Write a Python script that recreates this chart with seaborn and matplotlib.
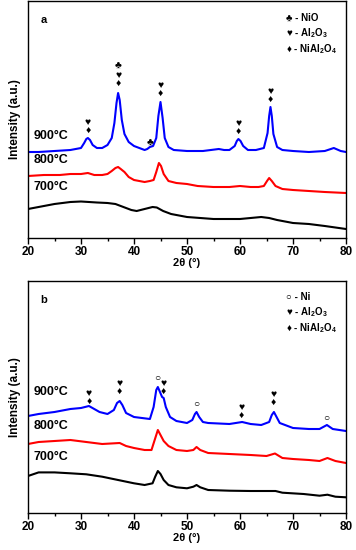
import matplotlib
matplotlib.use('Agg')
import matplotlib.pyplot as plt
import seaborn as sns
from matplotlib.ticker import MultipleLocator

# ---- panel a : calcined samples (NiO) ----
a_x900 = [20, 22, 25, 28, 30, 30.6, 31, 31.3, 31.7, 32.2, 33, 34, 35, 35.8, 36.3, 36.7, 37.0, 37.3, 37.7, 38.2,
          39, 40, 41, 42, 42.5, 43, 43.6, 44.2, 44.6, 45.0, 45.4, 45.8, 46.5, 47.5, 50, 53, 56, 57, 58, 59.0,
          59.4, 59.7, 60.1, 60.6, 61.5, 63, 64.5, 65.2, 65.5, 65.75, 66.0, 66.3, 67, 68, 70, 73, 76, 77.7, 79, 80]
a_y900 = [86, 86, 87, 88, 90, 95, 99, 100, 98, 93, 90, 90, 93, 100, 115, 135, 145, 138, 118, 104,
          96, 92, 90, 88, 89, 91, 92, 100, 122, 136, 120, 100, 91, 88, 87, 87, 89, 88, 88, 92,
          97, 99, 97, 92, 88, 88, 90, 105, 122, 131, 122, 104, 91, 88, 87, 86, 87, 90, 87, 86]
a_x800 = [20, 23, 26, 28, 30, 31.3, 32.5, 34, 35, 35.8, 36.5, 37.0, 37.5, 38.2, 39, 40, 41, 42, 43, 43.7,
          44.2, 44.7, 45.1, 45.6, 46.5, 48, 50, 52, 55, 58, 60, 62, 63.5, 64.5, 65.1, 65.5, 66, 66.7, 68, 70,
          73, 76, 80]
a_y800 = [62, 63, 63, 64, 64, 65, 63, 63, 64, 67, 70, 71, 69, 66, 61, 58, 57, 56, 57, 58,
          66, 75, 72, 64, 57, 55, 54, 52, 51, 51, 52, 51, 51, 52, 57, 60, 57, 52, 49, 48,
          47, 46, 45]
a_x700 = [20, 22, 25, 28, 30, 33, 35, 36.5, 38, 39.5, 40.5, 42, 43.5, 44.3, 45.5, 47, 50, 55, 58, 60,
          62, 64, 65.5, 67, 70, 73, 76, 80]
a_y700 = [29, 31, 34, 36, 36.5, 35.5, 35, 34, 31, 28, 27, 29, 31, 30.5, 27, 24, 21, 19, 19, 19,
          20, 21, 20, 18, 15, 14, 12, 9]

# ---- panel b : reduced samples (Ni) ----
b_x900 = [20, 22, 25, 28, 30, 31.5, 32.5, 33.5, 35, 36.2, 36.8, 37.3, 37.8, 38.5, 40, 41.5, 43, 43.7, 44.2, 44.5,
          44.9, 45.3, 45.6, 46.0, 46.8, 48, 50, 51.0, 51.5, 51.8, 52.3, 53, 54, 58, 60.4, 62, 64, 65.5, 66.0, 66.4,
          66.9, 67.5, 70, 73, 75, 76.4, 77.5, 80]
b_y900 = [97, 99, 101, 104, 105, 107, 104, 101, 99, 103, 110, 112, 108, 100, 96, 95, 94, 106, 123, 126,
          121, 116, 115, 106, 96, 92, 90, 93, 99, 101, 96, 91, 90, 89, 91, 89, 88, 91, 98, 101,
          96, 90, 85, 84, 84, 88, 84, 82]
b_x800 = [20, 22, 25, 28, 31, 34, 37.3, 38.5, 40, 42, 43.3, 43.9, 44.5, 45.0, 45.6, 46.5, 48, 50, 51.2, 51.8,
          52.5, 54, 58, 62, 65, 66.6, 68, 70, 73, 75, 76.5, 78, 80]
b_y800 = [69, 71, 72, 73, 71, 69, 70, 67, 65, 63, 63, 73, 83, 78, 72, 67, 63, 62, 63, 66,
          63, 60, 59, 58, 57, 59.5, 55, 54, 53, 52, 55, 52, 50]
b_x700 = [20, 22, 25, 28, 31, 34, 37, 40, 42, 43.5, 44.0, 44.5, 45.0, 45.6, 46.5, 48, 50, 51.2, 51.8, 52.5,
          54, 58, 62, 66.7, 68, 72, 75, 76.5, 78, 80]
b_y700 = [37, 40.6, 40.6, 39.7, 38.7, 36.3, 33, 29.7, 28, 29.7, 36.3, 42, 39, 33, 28, 25.7, 24.7, 26.3, 28, 25.7,
          23, 22.3, 22, 22, 20.3, 19, 17.3, 18.3, 16.3, 15.7]

# peak markers (2theta, symbols from top to bottom, height of top symbol)
a_marks = [(31.3, '♥♦', 116), (37.0, '♣♥♦', 172), (43.0, '♣', 95), (45.0, '♥♦', 153),
           (59.7, '♥♦', 115), (65.7, '♥♦', 147)]
b_marks = [(31.5, '♥♦', 120), (37.3, '♥♦', 130), (44.3, '○', 135), (45.6, '♥♦', 130),
           (51.8, '○', 109), (60.3, '♥♦', 106), (66.3, '♥♦', 119), (76.3, '○', 95)]

a_legend = ['♣ - NiO', '♥ - Al$_2$O$_3$', '♦ - NiAl$_2$O$_4$']
b_legend = ['○ - Ni', '♥ - Al$_2$O$_3$', '♦ - NiAl$_2$O$_4$']
temps = ['900°C', '800°C', '700°C']
a_temp_y = [96, 72, 45]
b_temp_y = [115, 81, 50]

sns.set_style('ticks')
plt.rcParams['font.family'] = ['Liberation Sans', 'DejaVu Sans']
plt.rcParams['font.weight'] = 'bold'
plt.rcParams['mathtext.default'] = 'regular'
plt.rcParams['text.color'] = 'black'
plt.rcParams['axes.labelcolor'] = 'black'
plt.rcParams['xtick.color'] = 'black'
plt.rcParams['xtick.labelcolor'] = 'black'

fig = plt.figure(figsize=(3.56, 5.5), dpi=100)
ax1 = fig.add_axes([28/356, 1 - 238/550, 318/356, 237/550])
ax2 = fig.add_axes([28/356, 1 - 513/550, 318/356, 232/550])


def draw_panel(ax, curves, marks, legend, temp_y, letter, ytop):
    for xs, ys, col in curves:
        sns.lineplot(x=xs, y=ys, color=col, lw=1.5, ax=ax, sort=False)
    ax.set_xlim(20, 80)
    ax.set_ylim(0, ytop)
    ax.xaxis.set_major_locator(MultipleLocator(10))
    ax.xaxis.set_minor_locator(MultipleLocator(5))
    ax.tick_params(axis='x', which='major', direction='out', length=4, width=1, labelsize=8.5, pad=2,
                   colors='black')
    ax.tick_params(axis='x', which='minor', direction='out', length=2.5, width=1, colors='black')
    ax.set_yticks([])
    for s in ax.spines.values():
        s.set_visible(True)
        s.set_color('black')
        s.set_linewidth(1)
    for lab in ax.get_xticklabels():
        lab.set_fontweight('bold')
    ax.set_xlabel('2θ (°)', fontsize=8, fontweight='bold', labelpad=0, color='black')
    ax.set_ylabel('Intensity (a.u.)', fontsize=8.5, fontweight='bold', labelpad=5, color='black')
    for x, syms, ytop_sym in marks:
        for i, s in enumerate(syms):
            ax.text(x, ytop_sym - 9 * i, s, fontsize=7.5, ha='center', va='center', color='black')
    for i, t in enumerate(legend):
        ax.text(0.81, 0.93 - 0.066 * i, t, transform=ax.transAxes, fontsize=7,
                fontweight='bold', ha='left', va='center', color='black')
    for t, ty in zip(temps, temp_y):
        ax.text(21.0, ty, t, fontsize=9, fontweight='bold', ha='left', va='bottom', color='black')
    ax.text(0.04, 0.92, letter, transform=ax.transAxes, fontsize=8, fontweight='bold',
            ha='left', va='center', color='black')


draw_panel(ax1, [(a_x900, a_y900, '#0000ff'), (a_x800, a_y800, '#ff0000'), (a_x700, a_y700, 'black')],
           a_marks, a_legend, a_temp_y, 'a', 237)
draw_panel(ax2, [(b_x900, b_y900, '#0000ff'), (b_x800, b_y800, '#ff0000'), (b_x700, b_y700, 'black')],
           b_marks, b_legend, b_temp_y, 'b', 232)

plt.savefig('out.png', dpi=100)
